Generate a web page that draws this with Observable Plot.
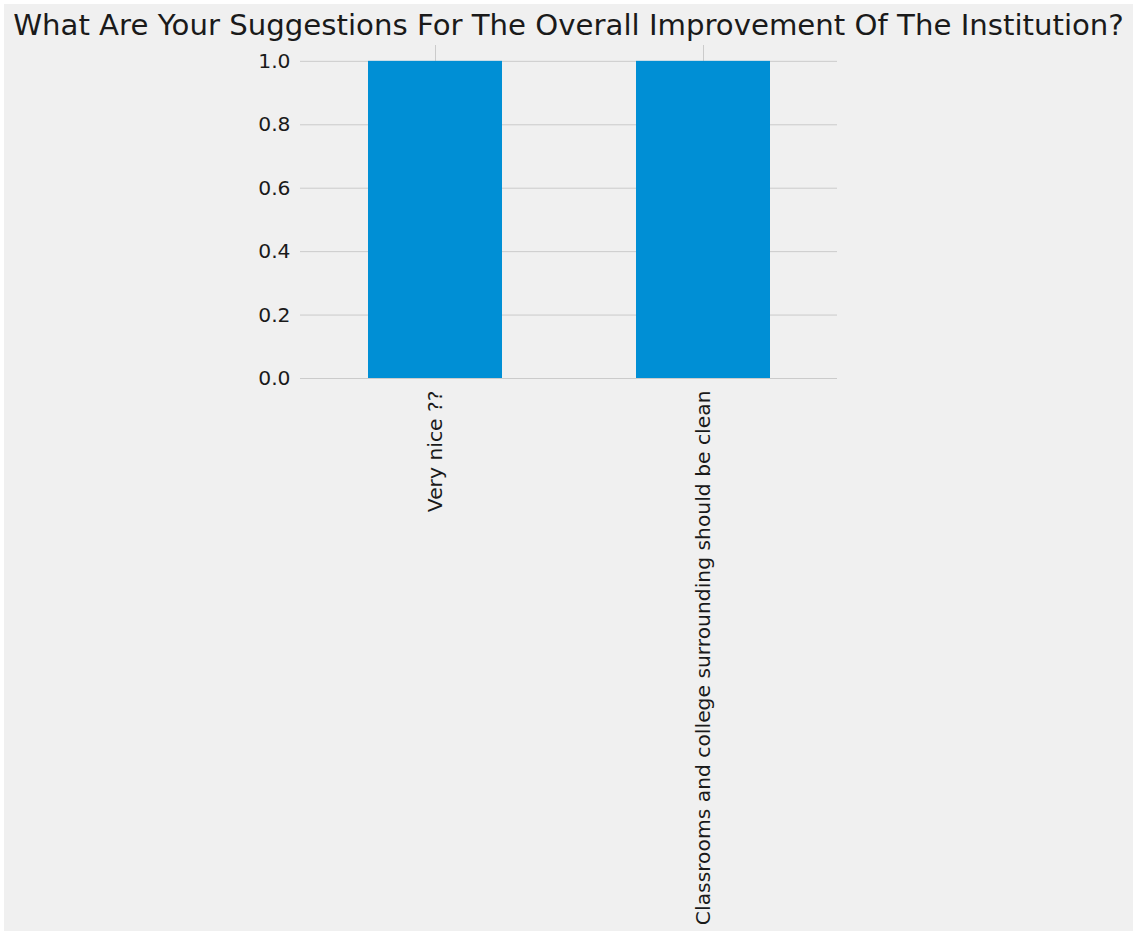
<!DOCTYPE html>
<html>
<head>
<meta charset="utf-8">
<script src="https://cdn.jsdelivr.net/npm/d3@7"></script>
<script src="https://cdn.jsdelivr.net/npm/@observablehq/plot@0.6"></script>
<style>
  html, body { margin: 0; padding: 0; background: #ffffff; }
  #fig { position: absolute; left: 4px; top: 4px; width: 1129px; height: 927px; background: #f0f0f0; overflow: hidden; }
  #title { position: absolute; left: 0; top: 0; width: 1129px; text-align: center; font-family: "DejaVu Sans", sans-serif; font-size: 29.2px; line-height: 1; color: #1a1a1a; padding-top: 7px; white-space: nowrap; }
  #chart { position: absolute; left: 0; top: 36px; }
  #chart svg { background: transparent; }
</style>
</head>
<body>
<div id="fig">
  <div id="title">What Are Your Suggestions For The Overall Improvement Of The Institution?</div>
  <div id="chart"></div>
</div>
<script>
const categories = ["Very nice ??", "Classrooms and college surrounding should be clean"];
const counts = [1, 1];
const yTicks = [0, 0.2, 0.4, 0.6, 0.8, 1.0];

const data = categories.map((c, i) => ({category: c, count: counts[i]}));

const chart = Plot.plot({
  width: 1129,
  height: 891,
  marginLeft: 296,
  marginRight: 296,
  marginTop: 5,
  marginBottom: 553,
  style: {background: "transparent", fontFamily: "DejaVu Sans, sans-serif", fontSize: "20.3px", color: "#1a1a1a"},
  x: {domain: categories, paddingInner: 0.5, paddingOuter: 0.25, label: null},
  y: {domain: [0, 1.05], label: null},
  marks: [
    Plot.gridY(yTicks, {stroke: "#cbcbcb", strokeOpacity: 1, strokeWidth: 1}),
    Plot.ruleX(categories, {x: d => d, y1: 0, y2: 1.05, stroke: "#cbcbcb", strokeOpacity: 1, strokeWidth: 1}),
    Plot.barY(data, {x: "category", y: "count", fill: "#008fd5"}),
    Plot.axisY(yTicks, {tickSize: 0, tickPadding: 10, tickFormat: d3.format(".1f"), label: null, fontSize: 20.3}),
    Plot.axisX({tickSize: 0, tickPadding: 12, tickRotate: -90, label: null, fontSize: 20.3})
  ]
});
document.getElementById("chart").appendChild(chart);
</script>
</body>
</html>
